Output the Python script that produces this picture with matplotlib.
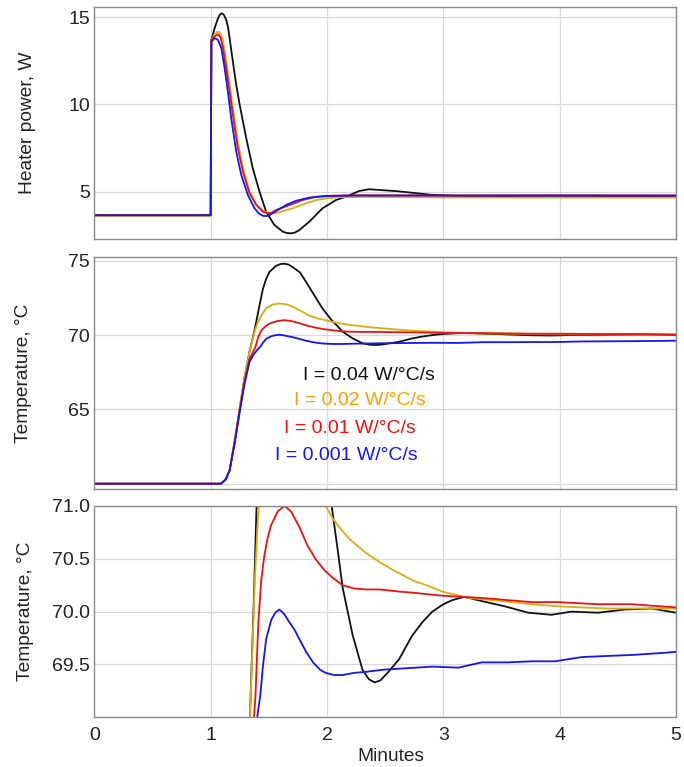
import matplotlib
matplotlib.use('Agg')
import matplotlib.pyplot as plt

plt.rcParams['font.family'] = ['Liberation Sans', 'DejaVu Sans']

# ---- heater power, W (time in minutes) ----
p_black_t = [0, 1.0, 1.006, 1.034, 1.063, 1.08, 1.097, 1.115, 1.134, 1.15, 1.163, 1.191, 1.22, 1.249,
             1.306, 1.362, 1.42, 1.477, 1.548, 1.62, 1.655, 1.69, 1.725, 1.763, 1.848, 1.962, 2.077,
             2.163, 2.277, 2.362, 2.448, 2.6, 2.73, 2.9, 3.1, 3.5, 4.0, 4.5, 5.0]
p_black = [3.65, 3.65, 13.7, 14.37, 14.94, 15.15, 15.23, 15.12, 14.85, 14.4, 13.8, 12.45, 11.12, 10.0,
           8.06, 6.34, 5.0, 3.85, 3.09, 2.71, 2.63, 2.61, 2.66, 2.8, 3.28, 4.05, 4.52,
           4.71, 5.04, 5.14, 5.1, 5.03, 4.94, 4.82, 4.76, 4.75, 4.76, 4.75, 4.75]

p_yellow_t = [0, 1.0, 1.006, 1.034, 1.055, 1.07, 1.088, 1.106, 1.134, 1.163, 1.191, 1.234, 1.277, 1.334,
              1.392, 1.449, 1.506, 1.55, 1.591, 1.705, 1.82, 1.906, 2.0, 2.1, 2.3, 3.0, 4.0, 5.0]
p_yellow = [3.62, 3.62, 13.7, 14.03, 14.15, 14.17, 14.0, 13.6, 12.45, 11.12, 9.78, 7.78, 6.34, 5.0,
            4.28, 3.9, 3.76, 3.77, 3.82, 4.05, 4.33, 4.52, 4.62, 4.68, 4.7, 4.67, 4.66, 4.66]

p_red_t = [0, 1.0, 1.006, 1.034, 1.063, 1.085, 1.106, 1.134, 1.163, 1.191, 1.234, 1.277, 1.334, 1.392,
           1.449, 1.49, 1.525, 1.563, 1.68, 1.791, 1.906, 2.05, 2.3, 3.0, 4.0, 5.0]
p_red = [3.65, 3.65, 13.7, 13.89, 14.03, 13.85, 13.22, 12.08, 10.73, 9.4, 7.49, 6.15, 4.91, 4.24,
         3.85, 3.76, 3.8, 3.95, 4.24, 4.52, 4.71, 4.77, 4.79, 4.78, 4.79, 4.78]

p_blue_t = [0, 1.0, 1.006, 1.034, 1.063, 1.092, 1.12, 1.148, 1.177, 1.22, 1.263, 1.32, 1.377, 1.415,
            1.448, 1.48, 1.506, 1.577, 1.65, 1.734, 1.85, 1.99, 2.2, 3.0, 4.0, 5.0]
p_blue = [3.65, 3.65, 13.6, 13.8, 13.7, 13.22, 12.08, 10.73, 9.21, 7.29, 5.96, 4.81, 4.05, 3.75,
          3.62, 3.6, 3.66, 3.95, 4.24, 4.48, 4.66, 4.75, 4.78, 4.78, 4.78, 4.78]

# ---- temperature, degC ----
t_black_t = [0, 1.09, 1.13, 1.163, 1.206, 1.249, 1.291, 1.334, 1.368, 1.392, 1.42, 1.449, 1.478, 1.506,
             1.56, 1.60, 1.634, 1.67, 1.70, 1.77, 1.85, 1.96, 2.04, 2.09, 2.134, 2.22, 2.305, 2.36,
             2.41, 2.46, 2.52, 2.62, 2.73, 2.82, 2.905, 3.0, 3.08, 3.18, 3.33, 3.53, 3.73, 3.93, 4.1,
             4.33, 4.56, 4.79, 5.0]
t_black = [60.0, 60.0, 60.3, 60.9, 62.8, 65.0, 67.1, 68.9, 70.0, 70.9, 72.0, 73.1, 73.8, 74.25,
           74.65, 74.78, 74.8, 74.74, 74.6, 74.2, 73.2, 71.8, 71.0, 70.6, 70.23, 69.78, 69.45, 69.36,
           69.33, 69.35, 69.42, 69.55, 69.77, 69.9, 70.0, 70.07, 70.11, 70.14, 70.10, 70.05, 69.99,
           69.97, 70.0, 69.99, 70.02, 70.03, 69.99]

t_yellow_t = [0, 1.09, 1.13, 1.163, 1.206, 1.249, 1.291, 1.334, 1.357, 1.38, 1.405, 1.434, 1.477, 1.53,
              1.59, 1.66, 1.707, 1.78, 1.85, 1.92, 1.99, 2.05, 2.105, 2.19, 2.33, 2.45, 2.59, 2.75,
              2.88, 2.99, 3.22, 3.5, 3.76, 3.99, 4.39, 4.7, 5.0]
t_yellow = [60.0, 60.0, 60.3, 60.9, 62.9, 65.1, 67.2, 68.9, 69.6, 70.3, 70.85, 71.3, 71.8, 72.05,
            72.13, 72.05, 71.9, 71.6, 71.3, 71.12, 71.0, 70.88, 70.80, 70.69, 70.56, 70.47, 70.38,
            70.29, 70.24, 70.19, 70.13, 70.10, 70.07, 70.05, 70.03, 70.03, 70.03]

t_red_t = [0, 1.09, 1.13, 1.163, 1.206, 1.249, 1.291, 1.334, 1.36, 1.385, 1.41, 1.435, 1.46, 1.49,
           1.52, 1.577, 1.634, 1.69, 1.763, 1.83, 1.906, 1.98, 2.05, 2.134, 2.23, 2.334, 2.45, 2.62,
           2.73, 3.0, 3.33, 3.76, 3.99, 4.33, 4.62, 5.0]
t_red = [60.0, 60.0, 60.3, 60.9, 62.8, 64.9, 66.9, 68.4, 68.8, 69.2, 69.9, 70.3, 70.52, 70.7,
         70.82, 70.95, 71.0, 70.95, 70.8, 70.63, 70.49, 70.39, 70.32, 70.25, 70.22, 70.21, 70.21,
         70.19, 70.18, 70.15, 70.13, 70.09, 70.09, 70.07, 70.07, 70.04]

t_blue_t = [0, 1.09, 1.13, 1.163, 1.206, 1.249, 1.291, 1.334, 1.37, 1.40, 1.426, 1.449, 1.477, 1.52,
            1.555, 1.59, 1.63, 1.677, 1.72, 1.763, 1.82, 1.88, 1.94, 1.99, 2.06, 2.134, 2.23, 2.334,
            2.48, 2.62, 2.905, 3.13, 3.33, 3.56, 3.76, 3.96, 4.19, 4.4, 4.62, 4.9, 5.0]
t_blue = [60.0, 60.0, 60.3, 60.9, 62.7, 64.8, 66.7, 68.2, 68.7, 69.0, 69.2, 69.48, 69.74, 69.92,
          69.99, 70.02, 69.98, 69.9, 69.83, 69.74, 69.62, 69.52, 69.45, 69.42, 69.40, 69.40, 69.42,
          69.43, 69.45, 69.46, 69.48, 69.47, 69.52, 69.52, 69.53, 69.53, 69.57, 69.58, 69.59, 69.61,
          69.62]

labels = ['I = 0.04 W/\u00b0C/s', 'I = 0.02 W/\u00b0C/s', 'I = 0.01 W/\u00b0C/s', 'I = 0.001 W/\u00b0C/s']
line_colors = ['#111111', '#D8AE10', '#EE1111', '#1515EE']
text_colors = ['#111111', '#F5A300', '#EE1111', '#1515EE']

power = [(p_black_t, p_black), (p_yellow_t, p_yellow), (p_red_t, p_red), (p_blue_t, p_blue)]
temps = [(t_black_t, t_black), (t_yellow_t, t_yellow), (t_red_t, t_red), (t_blue_t, t_blue)]

fig = plt.figure(figsize=(6.84, 7.67), dpi=100)
ax1 = fig.add_axes([0.1379, 0.688, 0.8504, 0.3025])
ax2 = fig.add_axes([0.1379, 0.362, 0.8504, 0.3025])
ax3 = fig.add_axes([0.1379, 0.0648, 0.8504, 0.2755])


def style(ax):
    ax.set_xlim(0, 5)
    ax.set_xticks([0, 1, 2, 3, 4, 5])
    ax.grid(True, color='#d8d8d8', linewidth=0.9)
    ax.set_axisbelow(True)
    for s in ax.spines.values():
        s.set_color('#8a8a8a')
        s.set_linewidth(1.0)
    ax.tick_params(length=0, labelsize=14, colors='#222222')
    ax.tick_params(axis='y', pad=3)
    ax.tick_params(axis='x', pad=7)


for (t, v), c in zip(power, line_colors):
    ax1.plot(t, v, color=c, linewidth=1.3)
style(ax1)
ax1.set_ylim(2.27, 15.57)
ax1.set_yticks([5, 10, 15])
ax1.set_xticklabels([])

for ax in (ax2, ax3):
    for (t, v), c in zip(temps, line_colors):
        ax.plot(t, v, color=c, linewidth=1.3)
    style(ax)

ax2.set_ylim(59.62, 75.23)
ax2.set_yticks([60, 65, 70, 75])
ax2.set_yticklabels(['', '65', '70', '75'])
ax2.set_xticklabels([])

# curve labels
label_x = [1.79, 1.714, 1.634, 1.549]
label_y = [67.31, 65.63, 63.73, 61.93]
for lab, c, x, y in zip(labels, text_colors, label_x, label_y):
    ax2.text(x, y, lab, color=c, fontsize=14, ha='left', va='center')

ax3.set_ylim(69.0, 71.0)
ax3.set_yticks([69.0, 69.5, 70.0, 70.5, 71.0])
ax3.set_yticklabels(['', '69.5', '70.0', '70.5', '71.0'])

fig.text(27 / 684, 1 - 123.3 / 767, 'Heater power, W', rotation=90, ha='center', va='center',
         fontsize=13.8, color='#222222')
fig.text(24 / 684, 1 - 373.3 / 767, 'Temperature, \u00b0C', rotation=90, ha='center', va='center',
         fontsize=13.8, color='#222222')
fig.text(25 / 684, 1 - 611.7 / 767, 'Temperature, \u00b0C', rotation=90, ha='center', va='center',
         fontsize=13.8, color='#222222')
fig.text(391 / 684, 1 - 756.7 / 767, 'Minutes', ha='center', va='center', fontsize=13.8,
         color='#222222')

fig.savefig('out.png', dpi=100)
